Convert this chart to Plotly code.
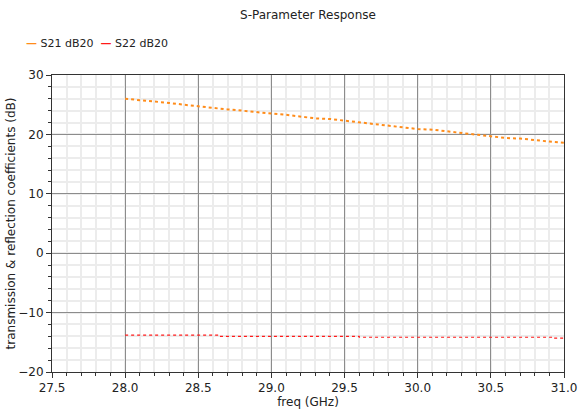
import plotly.graph_objects as go

# ---- data ----
s21_freq = [28.0, 28.1, 28.2, 28.3, 28.4, 28.5, 28.6, 28.7, 28.8, 28.9, 29.0,
            29.1, 29.2, 29.3, 29.4, 29.5, 29.6, 29.7, 29.8, 29.9, 30.0,
            30.1, 30.2, 30.3, 30.4, 30.5, 30.6, 30.7, 30.8, 30.9, 31.0]
s21_db = [26.0, 25.8, 25.5, 25.3, 25.0, 24.7, 24.4, 24.2, 24.0, 23.7, 23.5,
          23.3, 23.0, 22.7, 22.6, 22.3, 22.0, 21.7, 21.5, 21.2, 20.9,
          20.8, 20.5, 20.2, 20.0, 19.7, 19.4, 19.3, 19.0, 18.8, 18.6]
s22_freq = [28.0, 28.64, 29.6, 30.93, 31.0]
s22_db = [-13.8, -14.0, -14.15, -14.3, -14.3]
series_names = ["S21 dB20", "S22 dB20"]
x_ticks = [27.5, 28.0, 28.5, 29.0, 29.5, 30.0, 30.5, 31.0]
y_ticks = [-20, -10, 0, 10, 20, 30]

FONT = "DejaVu Sans"
ORANGE = "#ff8c1a"
RED = "#ff1a1a"

fig = go.Figure()
fig.add_trace(go.Scatter(x=s21_freq, y=s21_db, mode="lines", name=series_names[0],
                         line=dict(color=ORANGE, width=2, dash="dot"), showlegend=False))
fig.add_trace(go.Scatter(x=s22_freq, y=s22_db, mode="lines", name=series_names[1],
                         line=dict(color=RED, width=1.2, dash="dot", shape="hv"), showlegend=False))

# compact legend drawn as text
fig.add_annotation(xref="paper", yref="paper", x=-0.055, y=1.105, xanchor="left", yanchor="middle",
                   showarrow=False, font=dict(family=FONT, size=11, color="#222"),
                   text=f"<span style=\"color:{ORANGE}\"><b>—</b></span> {series_names[0]}  "
                        f"<span style=\"color:{RED}\"><b>—</b></span> {series_names[1]}")

axis_common = dict(showline=True, linecolor="#333", linewidth=1, mirror=True,
                   ticks="outside", ticklen=5, tickcolor="#333",
                   showgrid=True, gridcolor="#8c8c8c", gridwidth=1,
                   tickfont=dict(family=FONT, size=12, color="#222"),
                   zeroline=False, automargin=False)

fig.update_xaxes(range=[27.5, 31.0], tickvals=x_ticks, tickformat=".1f",
                 minor=dict(dtick=0.1, tick0=27.5, ticks="outside", ticklen=3, tickcolor="#333",
                            showgrid=True, gridcolor="#ececec", gridwidth=1.5),
                 title=dict(text="freq (GHz)", font=dict(family=FONT, size=12, color="#222"), standoff=0),
                 **axis_common)
fig.update_yaxes(range=[-20, 30], tickvals=y_ticks,
                 minor=dict(dtick=2, tick0=-20, ticks="outside", ticklen=3, tickcolor="#333",
                            showgrid=True, gridcolor="#ececec", gridwidth=1.5),
                 title=dict(text="transmission &amp; reflection coefficients (dB)",
                            font=dict(family=FONT, size=12, color="#222"), standoff=0),
                 **axis_common)

fig.update_layout(
    width=578, height=411,
    margin=dict(l=52, r=14, t=75, b=39),
    paper_bgcolor="white", plot_bgcolor="white",
    title=dict(text="S-Parameter Response", x=0.5, xref="paper", y=0.965, yanchor="middle",
               font=dict(family=FONT, size=12, color="#222")),
)

fig.write_html("out.html", config={"displayModeBar": False},
               post_script="document.body.style.margin='0';document.body.style.overflow='hidden';")
